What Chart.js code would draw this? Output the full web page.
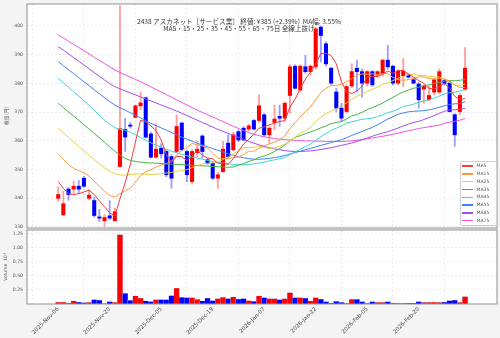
<!DOCTYPE html>
<html><head><meta charset="utf-8">
<script src="https://cdn.jsdelivr.net/npm/chart.js@4.4.1/dist/chart.umd.min.js"></script>
<style>
html,body{margin:0;padding:0;background:#f4f4f4;}
#wrap{position:relative;width:500px;height:338px;overflow:hidden;}
#c1{position:absolute;left:0;top:0;}
#c2{position:absolute;left:0;top:228px;}
.tl{position:absolute;left:0;width:478px;text-align:center;font-family:"Noto Sans CJK JP";font-size:6.6px;line-height:7px;color:#333;white-space:nowrap;}
#legend{position:absolute;left:460px;top:161px;width:37px;height:65px;border:1px solid #d0d0d0;border-radius:2px;background:rgba(255,255,255,0.85);box-sizing:border-box;}
.item{position:absolute;left:0;height:7.8px;width:100%;}
.sw{position:absolute;left:1px;top:3.2px;width:11px;height:1.5px;}
.lb{position:absolute;left:15.5px;top:0;font-family:"DejaVu Sans";font-size:4.6px;line-height:7.8px;color:#555;}
</style></head>
<body>
<div id="wrap">
<canvas id="c1" width="500" height="231"></canvas>
<canvas id="c2" width="500" height="110"></canvas>
<div class="tl" style="top:18.2px">2438 アスカネット［サービス業］ 終値: ¥385 (+2.39%)&nbsp;&nbsp;MA幅: 3.55%</div>
<div class="tl" style="top:24.9px">MA5・15・25・35・45・55・65・75日 全線上抜け</div>
<div id="legend"></div>
</div>
<script>
// ---- data (trading-day index 0..79) ----
const opens=[340,334.2,343.2,343.2,344.2,347,340,339.2,333.5,332.2,333.9,332.2,351,364,365.5,368.2,372.2,375,362.4,354.3,357.5,356.3,354.5,356.3,366.2,356.3,345.8,355.9,361.7,353.4,352.2,347,349.3,359.2,356.9,363.2,364.4,364.1,367.1,367.1,369.1,362.1,366.4,368.5,367.9,375.8,386,377.7,385.8,384.1,385.8,399.6,393.8,385.3,377,371.4,370.2,379.1,385.3,384.1,380.1,384.1,382.9,383.4,388.1,386,380.1,382.7,382.9,381.3,379.8,378,374.3,377,377,381,380.1,369.1,370.2,378];
const highs=[344,342.4,343.8,346,346.2,347.6,343,340.4,336.2,334.3,339.2,336.6,407,367.8,366.4,372.5,377,375.3,363,365.9,359,357,355.2,369,366.5,356.8,357,359.8,362.1,354,352.5,349,359.8,362.1,363,363.8,365,365.8,367.5,376,369.5,365,372.4,372.4,373.5,386.5,386.5,386.5,389.8,386.5,399.5,400,394.5,385.5,378.3,373.1,379.5,386.8,388.1,385,384.5,384.5,384.5,388.5,393.3,386.3,384.8,388.7,383.3,381.8,380.3,379.5,379,381.8,385,381.5,381,369.5,376.5,392.5];
const lows=[339,334,339.3,341.7,341.6,343.8,339.5,333.4,331.9,330.2,332.5,332,351,356.3,364.4,368,370.8,361,354,354,354,347.5,343.5,355.8,356.5,345.8,345,354.5,354,351.8,346.5,343.5,349,354,356.5,359.8,360,363.5,363.8,366.5,361.5,359.2,363.8,365,367,369.6,378,377,383.5,382.9,385,387.5,386,379.5,370.2,366.7,369.8,378.5,377,375.2,379,379,382,382.5,385,379.5,379.5,378.9,381.8,379.8,371.4,373.1,374,376,376.5,379.5,370,358.1,369.1,377.5];
const closes=[341.3,338.1,341.3,344.2,343.2,344.2,341.1,334,333.1,333.3,333.1,335.3,364.2,361.3,365.1,372.2,373.2,361.3,354.3,357.1,355.5,348.2,347,365,356.9,348.2,356.3,357.1,356.3,352.2,347,348.2,357.1,354.5,362.1,360.3,360.3,365.2,364.1,372.2,362.1,364.4,367.6,367.9,373.1,385.8,378.3,386,384.1,386,399,396.7,386.8,380.1,371.4,367.9,378.9,384.1,384.1,380.1,384.1,379.5,384.1,388.1,385.8,380.1,384.3,384.3,382.2,380.1,374.3,379.1,375.8,381.3,384.1,380,370.2,362.1,375.8,385.3];
const volumes=[360,360,180,540,360,240,300,770,710,60,420,300,12300,1900,650,1430,1070,540,420,770,770,770,1490,2800,1190,1130,1130,830,540,1070,600,950,1190,950,1250,890,950,600,480,1430,1130,950,950,770,950,2000,1130,1130,1070,540,1130,890,420,180,480,300,180,830,830,420,180,420,300,300,420,180,180,180,120,120,420,300,300,360,300,360,600,710,300,1300];
const ma5=[345.8,343.5,341.6,341.3,341.6,342.2,342.8,341.3,339.1,337.1,334.9,333.8,339.8,345.4,351.8,359.6,367.2,366.6,365.2,363.6,360.3,355.3,352.4,354.6,354.5,353.1,354.7,356.7,355,354,353.8,352.2,352.2,351.8,353.8,356.4,358.9,360.5,362.4,364.4,364.8,365.6,366.1,366.8,367,371.8,374.5,378.2,381.5,384,386.7,390.4,390.5,389.7,386.8,380.6,377,376.5,377.3,379,382.3,382.4,382.4,383.2,384.3,383.5,384.5,384.5,383.3,382.2,381,380,378.3,378.1,378.9,380.1,378.3,375.5,374.4,374.7];
const ma15=[355.5,353.6,351.8,350.4,349.6,348.9,347.7,346,344.2,342.5,341,340.4,341.6,342.6,343.5,345.6,347.9,349.3,349.9,350.9,351.6,352.1,352.9,355.1,356.6,357.7,359.1,358.6,358.2,357.4,355.7,354,353.8,353.8,354.1,354.4,355.2,356.4,356.4,357.4,358.3,358.9,359.6,360.3,361.7,364.3,366.3,368.3,370.2,371.8,374.4,376.8,378.3,379.3,379.3,379.7,380.6,381.7,382.8,383.3,383.2,383.3,383.1,383.4,383.4,382.1,381.3,381.1,381.3,381.8,382.3,382.3,381.7,381.5,381.8,381.5,380.9,379.5,378.6,378.6];
const ma25=[364.4,362.8,361.2,359.6,358,356.5,355,353.5,352,350.6,349.4,348.6,348.1,348.1,348.3,348.4,348.5,348.4,348.3,348.4,348.6,348.8,349,349.4,349.7,350,350.7,351.4,351.9,352.2,352.3,352.6,353.5,354.4,355.5,356.6,357.6,357.7,357.8,358.1,357.7,357.3,357.6,358.1,358.8,360,361.2,362.7,363.5,364.7,366.7,368.3,369.5,370.4,371.2,372,373.3,374.4,375.5,376.3,377.2,378,378.7,379.7,380.2,381,381.8,382.4,383,383.3,382.8,382.8,382.4,382.3,382.3,381.5,380.4,379.4,379.3,379.8];
const ma35=[373.1,371.6,370.1,368.6,367.1,365.6,364.1,362.6,361.1,359.5,357.9,356.4,355,353.9,353.2,352.8,352.6,352.4,352.3,352.2,352.1,352,351.9,351.8,351.7,351.6,351.5,351.4,351.3,351.2,351.1,351,350.9,350.8,350.9,351.5,352.1,352.8,353.4,354.2,354.7,355.4,356.3,357.3,358.5,360,361.2,361.8,362.5,363.1,363.8,364.5,365.2,366,366.4,366.7,367.6,368.7,369.2,369.9,370.9,371.6,372.3,373.2,374.2,375.1,376.2,377,377.7,378.3,378.7,379.2,379.5,380,380.3,380.8,381,380.9,381.1,381.4];
const ma45=[381.8,380.2,378.7,377.1,375.6,374,372.3,370.6,368.9,367.3,365.8,364.6,364,363.7,363,362.1,361.2,360.2,359.3,358.5,357.8,357.1,356.4,355.8,355.3,354.8,354.4,354,353.6,353.2,352.8,352.5,352.2,352,351.8,351.7,351.7,351.8,352,352.3,352.6,353,353.4,353.8,354.2,355.2,356.1,357.1,358,358.9,360.1,361.4,362.6,363.6,364.4,365.2,366.2,366.6,367.1,367.5,367.7,367.9,368.4,369.1,369.8,370.3,371.1,372,372.3,372.8,373.4,373.9,374.3,374.9,375.6,376.3,376.8,376.9,377.4,377.9];
const ma55=[387.6,386.2,384.8,383.4,382,380.6,379.2,377.8,376.4,375,373.7,372.5,371.5,370.7,369.8,368.9,368,367,366.1,365.3,364.5,363.7,362.9,362.1,361.3,360.6,359.9,359.2,358.5,357.9,357.3,356.7,356.1,355.5,355,354.5,354.1,353.8,353.6,353.6,353.7,353.9,354.2,354.5,354.9,355.4,355.9,356.4,356.9,357.4,357.9,358.4,358.9,359.4,359.9,360.4,361.1,361.9,362.6,363.3,364,364.7,365.6,366.6,367.6,368.4,369.3,369.7,370.1,370.3,370.4,370.5,370.8,371.2,371.7,372.2,372.6,372.9,373,373.6];
const ma65=[392.8,391.6,390.3,389,387.7,386.4,385.1,383.8,382.5,381.2,379.9,378.9,378.1,377.4,376.7,376,375.3,374.6,373.9,373.2,372.5,371.8,371.1,370.4,369.6,368.8,368,367.2,366.4,365.6,364.8,364,363.3,362.6,361.9,361.2,360.5,359.8,359.2,358.6,358.1,357.6,357.2,356.9,356.6,356.4,356.3,356.3,356.4,356.5,356.7,357,357.3,357.6,358,358.4,358.8,359.3,359.8,360.4,361,361.6,362.2,362.7,363.2,363.8,364.5,365.2,365.8,366.4,366.8,367.4,368.1,368.8,369.6,370.3,370.8,370.8,371,371.3];
const ma75=[396.9,395.8,394.7,393.6,392.5,391.4,390.3,389.1,388,386.9,385.8,384.7,383.8,383,382.2,381.4,380.6,379.7,378.8,377.9,377,376.1,375.2,374.3,373.4,372.5,371.6,370.7,369.9,369.1,368.3,367.5,366.7,365.9,365.1,364.3,363.6,362.9,362.3,361.8,361.4,361.1,360.8,360.6,360.4,360.3,360.2,360.1,360,360,359.9,359.9,359.8,359.8,359.8,359.8,359.9,360,360.2,360.4,360.7,361,361.3,361.6,361.9,362.3,362.7,363.1,363.5,363.9,364.3,364.6,364.9,365.2,365.5,366.1,366.5,366.8,367.2,367.8];
const tickIdx=[0,10,20,30,40,50,60,70];
const tickLabels=['2025-Nov-06','2025-Nov-20','2025-Dec-05','2025-Dec-19','2026-Jan-07','2026-Jan-22','2026-Feb-05','2026-Feb-20'];
const priceTicks=[330,340,350,360,370,380,390,400];
const volTicks=[2500,5000,7500,10000,12500];
const maNames=['MA5','MA15','MA25','MA35','MA45','MA55','MA65','MA75'];
const maColors=['#f43c3c','#ff9a3c','#e2d245','#45b445','#3fd6d0','#4282f5','#a54bf5','#f550e4'];
const maSeries=[ma5,ma15,ma25,ma35,ma45,ma55,ma65,ma75];

// ---- build ----
const idx=closes.map((_,i)=>i);
const isUp=idx.map(i=>closes[i]>=opens[i]);
const UP='#ff0000', DN='#0000ff';
const gridCol='#e2e2e2';
const frame={id:'frame',
  beforeDraw(c){const {ctx,chartArea:a}=c;ctx.save();ctx.fillStyle='#ffffff';ctx.fillRect(a.left,a.top,a.width,a.height);ctx.restore();},
  afterDraw(c){const {ctx,chartArea:a}=c;ctx.save();ctx.strokeStyle='#999';ctx.lineWidth=1.1;ctx.strokeRect(a.left,a.top,a.width,a.height);ctx.restore();}};
const noPad=s=>{s.paddingTop=0;s.paddingBottom=0;s.paddingLeft=0;s.paddingRight=0;};
const xBase={type:'linear',min:-0.35,max:79.5,
  afterBuildTicks:s=>{s.ticks=tickIdx.map(v=>({value:v}));},
  grid:{color:gridCol,lineWidth:0.7,drawTicks:false},border:{display:false,dash:[2,2]}};

const ds=[];
maSeries.forEach((m,k)=>ds.push({type:'line',label:maNames[k],data:idx.map(i=>({x:i,y:m[i]})),borderColor:maColors[k],borderWidth:1,pointRadius:0,tension:0,order:1}));
ds.push({type:'bar',label:'wick',data:idx.map(i=>({x:i,y:[lows[i],highs[i]]})),backgroundColor:idx.map(i=>isUp[i]?'rgba(255,40,40,0.45)':'rgba(40,40,255,0.45)'),barThickness:1.2,grouped:false,order:3});
ds.push({type:'bar',label:'body',data:idx.map(i=>({x:i,y:[Math.min(opens[i],closes[i]),Math.max(opens[i],closes[i])]})),backgroundColor:idx.map(i=>isUp[i]?UP:DN),barThickness:3.4,minBarLength:1,grouped:false,order:2});

new Chart(document.getElementById('c1'),{type:'bar',data:{datasets:ds},plugins:[frame],
 options:{responsive:false,animation:false,events:[],
  layout:{padding:{left:0,right:3,top:4,bottom:3}},
  plugins:{legend:{display:false},tooltip:{enabled:false}},
  scales:{
   x:Object.assign({},xBase,{ticks:{display:false},afterFit:s=>{s.height=0;noPad(s);}}),
   y:{min:329.65,max:407.66,afterBuildTicks:s=>{s.ticks=priceTicks.map(v=>({value:v}));},
      ticks:{font:{size:4.6,family:'DejaVu Sans'},color:'#555',padding:4},
      grid:{color:gridCol,lineWidth:0.7,drawTicks:false},border:{display:false,dash:[2,2]},
      title:{display:true,text:'株価 (円)',font:{size:4.6,family:'Noto Sans CJK JP'},color:'#555',padding:{top:3,bottom:0}},
      afterFit:s=>{s.width=27;noPad(s);}}
  }}});

new Chart(document.getElementById('c2'),{type:'bar',
 data:{datasets:[{label:'Volume',data:idx.map(i=>({x:i,y:volumes[i]})),backgroundColor:idx.map(i=>isUp[i]?UP:DN),borderColor:'rgba(170,170,210,0.7)',borderWidth:0.5,barThickness:5.5}]},
 plugins:[frame],
 options:{responsive:false,animation:false,events:[],
  layout:{padding:{left:0,right:3,top:2,bottom:0}},
  plugins:{legend:{display:false},tooltip:{enabled:false}},
  scales:{
   x:Object.assign({},xBase,{ticks:{display:true,autoSkip:false,maxRotation:45,minRotation:45,padding:2,font:{size:5.5,family:'DejaVu Sans'},color:'#444',
        callback:v=>{const k=tickIdx.indexOf(v);return k>=0?tickLabels[k]:'';}},afterFit:s=>{s.height=34;noPad(s);}}),
   y:{min:0,max:13100,afterBuildTicks:s=>{s.ticks=volTicks.map(v=>({value:v}));},
      ticks:{font:{size:4.6,family:'DejaVu Sans'},color:'#555',padding:4,callback:v=>(v/1e4).toFixed(2)},
      grid:{color:gridCol,lineWidth:0.7,drawTicks:false},border:{display:false,dash:[2,2]},
      title:{display:true,text:'Volume  10⁴',font:{size:4.6,family:'DejaVu Sans'},color:'#555',padding:{top:3,bottom:0}},
      afterFit:s=>{s.width=27;noPad(s);}}
  }}});

// legend
const lg=document.getElementById('legend');
maNames.forEach((n,k)=>{const it=document.createElement('div');it.className='item';it.style.top=(0.2+7.8*k)+'px';
 it.innerHTML='<div class="sw" style="background:'+maColors[k]+'"></div><div class="lb">'+n+'</div>';lg.appendChild(it);});
</script>
</body></html>
